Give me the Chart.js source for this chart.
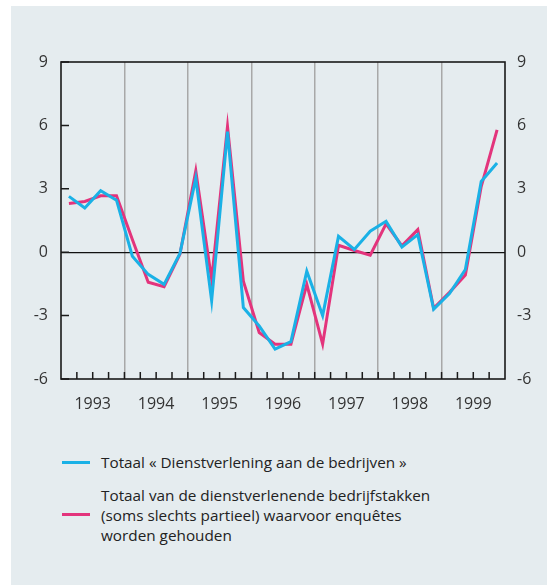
<!DOCTYPE html>
<html>
<head>
<meta charset="utf-8">
<script src="https://cdn.jsdelivr.net/npm/chart.js@4.4.1/dist/chart.umd.min.js"></script>
<style>
  html, body { margin: 0; padding: 0; background: #ffffff; }
  #panel { position: absolute; left: 11px; top: 6px; width: 536px; height: 579px; background: #e5ecef; }
  #c { position: absolute; left: 0; top: 0; }
  .leg { position: absolute; font-family: "Open Sans", Lato, sans-serif; font-size: 15.3px; color: #222; line-height: 20px; }
  .sw { position: absolute; height: 3px; width: 28px; }
</style>
</head>
<body>
<div id="panel"></div>
<canvas id="c" width="547" height="430"></canvas>
<div class="sw" style="left:62px;top:461px;background:#1ab1e6;"></div>
<div class="leg" style="left:101px;top:452px;">Totaal « Dienstverlening aan de bedrijven »</div>
<div class="sw" style="left:62px;top:513px;background:#e3347c;"></div>
<div class="leg" style="left:101px;top:485px;">Totaal van de dienstverlenende bedrijfstakken<br>(soms slechts partieel) waarvoor enquêtes<br>worden gehouden</div>
<script>
const years = ["1993", "1994", "1995", "1996", "1997", "1998", "1999"];
const quarters = [];
years.forEach(y => { for (let q = 1; q <= 4; q++) quarters.push(y + " K" + q); });

const dienstverlening = [2.64, 2.09, 2.91, 2.46, -0.19, -1.05, -1.52, -0.06,
  3.5, -2.3, 5.7, -2.62, -3.49, -4.59, -4.23, -0.9,
  -3.0, 0.75, 0.13, 0.99, 1.46, 0.24, 0.83, -2.7,
  -1.96, -0.82, 3.35, 4.22];
const bedrijfstakken = [2.3, 2.4, 2.67, 2.67, 0.6, -1.42, -1.63, -0.1,
  3.85, -1.3, 5.95, -1.37, -3.8, -4.35, -4.35, -1.52,
  -4.35, 0.33, 0.08, -0.14, 1.34, 0.3, 1.07, -2.65,
  -1.9, -1.08, 3.11, 5.79];
const yTicks = [-6, -3, 0, 3, 6, 9];

const frame = {
  id: 'frame',
  afterDatasetsDraw(chart) {
    const ctx = chart.ctx, a = chart.chartArea;
    const xs = chart.scales.x, ys = chart.scales.y;
    ctx.save();
    ctx.strokeStyle = '#1a1a1a';
    ctx.lineWidth = 1.5;
    ctx.beginPath();
    for (let i = 1; i < quarters.length; i++) {
      const px = (xs.getPixelForValue(i - 1) + xs.getPixelForValue(i)) / 2;
      ctx.moveTo(px, a.bottom);
      ctx.lineTo(px, a.bottom - 7);
    }
    yTicks.forEach(v => {
      const py = ys.getPixelForValue(v);
      ctx.moveTo(a.left, py);
      ctx.lineTo(a.left + 8, py);
    });
    ctx.stroke();
    ctx.lineWidth = 1.6;
    ctx.strokeRect(a.left, a.top, a.right - a.left, a.bottom - a.top);
    ctx.restore();
  }
};

const font = { family: '"Open Sans", Lato, sans-serif', size: 16 };

new Chart(document.getElementById('c'), {
  type: 'line',
  data: {
    labels: quarters,
    datasets: [
      { label: 'Totaal « Dienstverlening aan de bedrijven »', data: dienstverlening,
        borderColor: '#1ab1e6', borderWidth: 3, pointRadius: 0, tension: 0, fill: false },
      { label: 'Totaal van de dienstverlenende bedrijfstakken (soms slechts partieel) waarvoor enquêtes worden gehouden',
        data: bedrijfstakken, borderColor: '#e3347c', borderWidth: 3, pointRadius: 0, tension: 0, fill: false }
    ]
  },
  options: {
    responsive: false,
    animation: false,
    devicePixelRatio: 1,
    layout: { padding: { top: 62, left: 0, right: 0, bottom: 0 } },
    plugins: { legend: { display: false }, tooltip: { enabled: false } },
    scales: {
      x: {
        offset: true,
        grid: {
          offset: true, drawTicks: false,
          color: c => (c.index % 4 === 0 && c.index > 0 && c.index < quarters.length) ? '#a8a8a8' : 'rgba(0,0,0,0)',
          lineWidth: 1.5
        },
        border: { display: false },
        ticks: {
          autoSkip: false, maxRotation: 0, minRotation: 0, padding: 16,
          color: '#333', font: font,
          labelOffset: 7.9,
          callback: (v, i) => (i % 4 === 1) ? years[Math.floor(i / 4)] : ''
        },
        afterFit: s => { s.height = 51; }
      },
      y: {
        position: 'left', min: -6, max: 9,
        afterBuildTicks: s => { s.ticks = yTicks.map(v => ({ value: v })); },
        grid: { drawTicks: false, color: c => c.tick && c.tick.value === 0 ? '#111' : 'rgba(0,0,0,0)', lineWidth: 1.2 },
        border: { display: false },
        ticks: { padding: 13, color: '#333', font: font },
        afterFit: s => { s.width = 61; }
      },
      y2: {
        position: 'right', min: -6, max: 9,
        afterBuildTicks: s => { s.ticks = yTicks.map(v => ({ value: v })); },
        grid: { display: false, drawTicks: false },
        border: { display: false },
        ticks: { padding: 12, color: '#333', font: font },
        afterFit: s => { s.width = 42; }
      }
    }
  },
  plugins: [frame]
});
</script>
</body>
</html>
